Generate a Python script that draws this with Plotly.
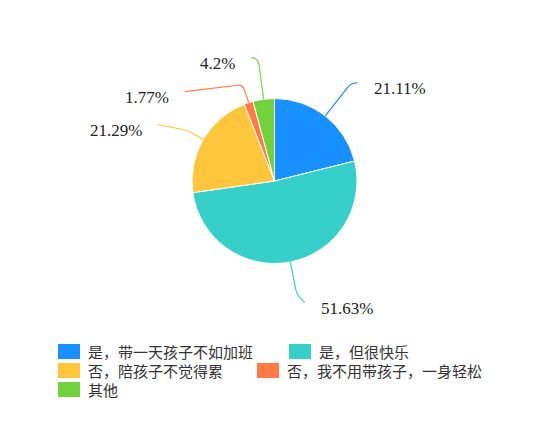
import math
import plotly.graph_objects as go

# ---- data ----
categories = [
    "是，带一天孩子不如加班",
    "是，但很快乐",
    "否，陪孩子不觉得累",
    "否，我不用带孩子，一身轻松",
    "其他",
]
values = [21.11, 51.63, 21.29, 1.77, 4.2]
value_labels = ["21.11%", "51.63%", "21.29%", "1.77%", "4.2%"]
colors = ["#1890FF", "#36CFC9", "#FFC53D", "#FF7A45", "#73D13D"]

# ---- layout (pixels in the final page) ----
W, H = 550, 422
PAGE_OFF = 8  # body margin of the html page
CX, CY, R = 274.5, 181.0, 82.5

# leader line style per slice: radial length, horizontal length, vertical drift
lead1 = [41, 33, 18, 19, 40]
lead2 = [7, 8, 30, 58, 7]
lead_dy = [-1, 8, -6, 7, -2]
TEXT_GAP = 14


def px(x):
    return (x - PAGE_OFF) / W


def py(y):
    return 1 - (y - PAGE_OFF) / H


fig = go.Figure()
fig.add_trace(go.Pie(
    labels=categories,
    values=values,
    sort=False,
    direction="clockwise",
    rotation=0,
    textinfo="none",
    hoverinfo="label+percent",
    marker=dict(colors=colors, line=dict(color="white", width=1)),
    domain=dict(x=[px(CX - R), px(CX + R)], y=[py(CY + R), py(CY - R)]),
    showlegend=False,
))

shapes = []
annotations = []

# outside labels with curved leader lines, placed from each slice's mid angle
total = sum(values)
cum = 0.0
for i, v in enumerate(values):
    theta = math.radians((cum + v / 2) / total * 360)
    cum += v
    sx, sy = math.sin(theta), -math.cos(theta)
    ex, ey = CX + R * sx, CY + R * sy
    bx, by = ex + lead1[i] * sx, ey + lead1[i] * sy
    side = 1 if sx >= 0 else -1
    cx_, cy_ = bx + side * lead2[i], by + lead_dy[i]

    k = 5
    d1 = math.hypot(bx - ex, by - ey)
    d2 = math.hypot(cx_ - bx, cy_ - by)
    p1 = (bx - k * (bx - ex) / d1, by - k * (by - ey) / d1)
    p2 = (bx + k * (cx_ - bx) / d2, by + k * (cy_ - by) / d2)
    path = (f"M {px(ex)},{py(ey)} L {px(p1[0])},{py(p1[1])} "
            f"Q {px(bx)},{py(by)} {px(p2[0])},{py(p2[1])} "
            f"L {px(cx_)},{py(cy_)}")
    shapes.append(dict(type="path", path=path, xref="paper", yref="paper",
                       line=dict(color=colors[i], width=1.2)))
    annotations.append(dict(
        x=px(cx_ + side * TEXT_GAP), y=py(cy_ + 6), xref="paper", yref="paper",
        text=value_labels[i], showarrow=False,
        xanchor="left" if side > 0 else "right", yanchor="middle",
        font=dict(family="Liberation Serif", size=17, color="#222"),
    ))

# legend laid out as a wrapping flow, like the original
LEG_X0, LEG_Y0, ROW_H = 58, 351.5, 19
BOX_W, BOX_H, BOX_GAP, ITEM_GAP = 22, 15, 7, 26
CHAR_W, FONT = 16, 15
MAX_X = 500
x, y = LEG_X0, LEG_Y0
for i, name in enumerate(categories):
    item_w = BOX_W + BOX_GAP + CHAR_W * len(name)
    if x > LEG_X0 and x + item_w > MAX_X:
        x, y = LEG_X0, y + ROW_H
    shapes.append(dict(type="rect", xref="paper", yref="paper",
                       x0=px(x), x1=px(x + BOX_W),
                       y0=py(y + BOX_H / 2), y1=py(y - BOX_H / 2),
                       fillcolor=colors[i], line=dict(width=0)))
    annotations.append(dict(
        x=px(x + BOX_W + BOX_GAP), y=py(y), xref="paper", yref="paper",
        text=name, showarrow=False, xanchor="left", yanchor="middle",
        borderpad=0,
        font=dict(family="Noto Sans CJK SC", size=FONT, color="#333"),
    ))
    x += item_w + ITEM_GAP

fig.update_layout(
    width=W,
    height=H,
    autosize=False,
    margin=dict(l=0, r=0, t=0, b=0),
    paper_bgcolor="white",
    plot_bgcolor="white",
    shapes=shapes,
    annotations=annotations,
)

fig.write_html("out.html")
